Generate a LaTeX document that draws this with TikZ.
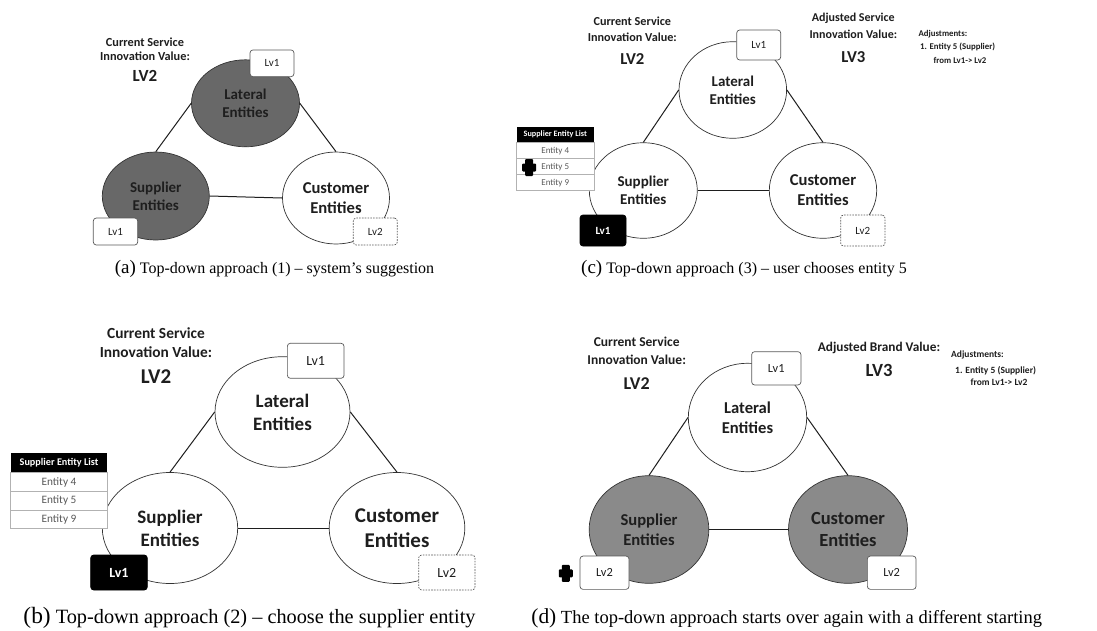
\documentclass[tikz,border=0pt]{standalone}
\usepackage{fontspec}
\setmainfont{Carlito}
\newfontfamily\capfont{Liberation Serif}
\usetikzlibrary{shapes.geometric}

% font size with a 1.2 line spacing
\newcommand\fsz[1]{\fontsize{#1}{\fpeval{1.2*#1}}\selectfont}

\definecolor{darkfill}{HTML}{686868}
\definecolor{midfill}{HTML}{8A8A8A}
\definecolor{edge}{HTML}{333333}
\definecolor{inkgray}{HTML}{1E1E1E}

\tikzset{
  entity/.style={ellipse, draw=edge, line width=0.7pt, fill=white, inner sep=0pt,
    align=center, text=inkgray, font=\bfseries\fsz{#1}},
  link/.style={draw=inkgray, line width=1pt},
  lvbox/.style={draw=black!65, line width=0.7pt, rounded corners=3pt, fill=white,
    inner sep=0pt, text=inkgray, font=\fsz{#1}},
  lvdash/.style={lvbox=#1, dash pattern=on 1.6pt off 1.2pt},
  lvsel/.style={lvbox=#1, draw=black, fill=black, text=white, font=\bfseries\fsz{#1}},
  head/.style={inner sep=0pt, text=inkgray, font=\bfseries\fsz{#1}},
  note/.style={inner sep=0pt, text=inkgray, font=\bfseries\fsz{#1}},
  thead/.style={fill=black, text=white, inner sep=0pt, font=\bfseries\fsz{#1}},
  trow/.style={draw=black!30, line width=0.6pt, fill=white, text=black!65,
    inner sep=0pt, font=\fsz{#1}},
  caption/.style={inner sep=0pt, text=black, font=\capfont\fsz{#1}},
  pics/plusmark/.style={code={
    \fill[black, rounded corners=1pt] (-7,-4) rectangle (7,4);
    \fill[black, rounded corners=1pt] (-4,-8.5) rectangle (4,8.5);
  }},
}

\begin{document}
\begin{tikzpicture}[x=1pt, y=-1pt]
\useasboundingbox[fill=white] (0,0) rectangle (1097,630);

% ---------------- (a) system's suggestion ----------------
\node[head=12.3] (aH1) at (145,42.3) {Current Service};
\node[head=12.3] (aH2) at (145,56.7) {Innovation Value:};
\node[head=17]   (aV)  at (145,76)   {LV2};

\node[entity=15, fill=darkfill, minimum width=108pt, minimum height=87pt]
  (aLat) at (245.5,103.3) {Lateral\\Entities};
\node[entity=15, fill=darkfill, minimum width=107pt, minimum height=88pt]
  (aSup) at (155.8,196) {Supplier\\Entities};
\node[entity=16.6, minimum width=107pt, minimum height=92pt]
  (aCus) at (336,198) {Customer\\Entities};

\draw[link] (aLat.west) -- (aSup.north);
\draw[link] (aLat.east) -- (aCus.north);
\draw[link] (aSup.east) -- (aCus.west);

\node[lvbox=11, minimum width=44pt, minimum height=26.7pt] (aLvL) at (272,63.3) {Lv1};
\node[lvbox=11, minimum width=44.4pt, minimum height=27pt] (aLvS) at (115.5,231.5) {Lv1};
\node[lvdash=11, minimum width=44pt, minimum height=27pt] (aLvC) at (375.3,231.5) {Lv2};

\node[caption=16] (aCap) at (274.5,269)
  {{\fsz{19}(a)} Top-down approach (1) – system’s suggestion};

% ---------------- (c) user chooses entity 5 ----------------
\node[head=12.2] (cH1) at (632.3,21.7) {Current Service};
\node[head=12.2] (cH2) at (632.3,37.3) {Innovation Value:};
\node[head=16.7] (cV)  at (632.3,59.3) {LV2};

\node[head=12] (cA1) at (853.3,18.3) {Adjusted Service};
\node[head=12] (cA2) at (853.3,34.3) {Innovation Value:};
\node[head=16.7] (cAV) at (853.3,56.7) {LV3};

\node[note=8.8, anchor=west] (cN1) at (918.3,34) {Adjustments:};
\node[note=8.8, anchor=west] (cN2) at (920,46.7) {1. Entity 5 (Supplier)};
\node[note=8.8] (cN3) at (960,60) {from Lv1-> Lv2};

\node[entity=15, minimum width=107.6pt, minimum height=96.6pt]
  (cLat) at (732.8,90) {Lateral\\Entities};
\node[entity=15, minimum width=108pt, minimum height=95.6pt]
  (cSup) at (643.3,190.5) {Supplier\\Entities};
\node[entity=16.6, minimum width=107.4pt, minimum height=95.6pt]
  (cCus) at (823,190.5) {Customer\\Entities};

\draw[link] (cLat.west) -- (cSup.north);
\draw[link] (cLat.east) -- (cCus.north);
\draw[link] (cSup.east) -- (cCus.west);

\node[lvbox=11, minimum width=44pt, minimum height=30pt] (cLvL) at (758.7,45) {Lv1};
\node[lvsel=11, minimum width=46pt, minimum height=31pt] (cLvS) at (603,230.5) {Lv1};
\node[lvdash=11, minimum width=44.3pt, minimum height=31pt] (cLvC) at (862.8,230.5) {Lv2};

\node[thead=8.2, minimum width=77.5pt, minimum height=16pt] (cT0) at (555.25,134.7) {Supplier Entity List};
\node[trow=9, minimum width=77.5pt, minimum height=16pt] (cT1) at (555.25,150.7) {Entity 4};
\node[trow=9, minimum width=77.5pt, minimum height=16pt] (cT2) at (555.25,166.7) {Entity 5};
\node[trow=9, minimum width=77.5pt, minimum height=16pt] (cT3) at (555.25,182.7) {Entity 9};
\pic at (529,167.5) {plusmark};

\node[caption=16] (cCap) at (744,269)
  {{\fsz{19}(c)} Top-down approach (3) – user chooses entity 5};

% ---------------- (b) choose the supplier entity ----------------
\node[head=15.4] (bH1) at (156,333.3) {Current Service};
\node[head=15.4] (bH2) at (156,352.3) {Innovation Value:};
\node[head=21]   (bV)  at (156,376.7) {LV2};

\node[entity=19, minimum width=135pt, minimum height=110.6pt]
  (bLat) at (282.5,412) {Lateral\\Entities};
\node[entity=19, minimum width=135.4pt, minimum height=111pt]
  (bSup) at (170,528) {Supplier\\Entities};
\node[entity=21, minimum width=135.7pt, minimum height=111pt]
  (bCus) at (397,528) {Customer\\Entities};

\draw[link] (bLat.west) -- (bSup.north);
\draw[link] (bLat.east) -- (bCus.north);
\draw[link] (bSup.east) -- (bCus.west);

\node[lvbox=14, minimum width=56.7pt, minimum height=35pt] (bLvL) at (315.7,360.8) {Lv1};
\node[lvsel=14, minimum width=56.6pt, minimum height=35pt] (bLvS) at (119,572.5) {Lv1};
\node[lvdash=14, minimum width=56.3pt, minimum height=35pt] (bLvC) at (446.8,572.5) {Lv2};

\node[thead=10.2, minimum width=96.6pt, minimum height=19.4pt] (bT0) at (59,463) {Supplier Entity List};
\node[trow=11.3, minimum width=96.6pt, minimum height=18.7pt] (bT1) at (59,482) {Entity 4};
\node[trow=11.3, minimum width=96.6pt, minimum height=18.7pt] (bT2) at (59,500.7) {Entity 5};
\node[trow=11.3, minimum width=96.6pt, minimum height=18.7pt] (bT3) at (59,519.4) {Entity 9};

\node[caption=20.3] (bCap) at (249.5,618)
  {{\fsz{23.4}(b)} Top-down approach (2) – choose the supplier entity};

% ---------------- (d) start over with a new starting point ----------------
\node[head=13.5] (dH1) at (636.7,342.3) {Current Service};
\node[head=13.5] (dH2) at (636.7,360) {Innovation Value:};
\node[head=18]   (dV)  at (636.7,383.3) {LV2};

\node[head=13.3] (dA1) at (879,347.7) {Adjusted Brand Value:};
\node[head=18.6] (dAV) at (879,370.7) {LV3};

\node[note=9.5, anchor=west] (dN1) at (951,355) {Adjustments:};
\node[note=9.5, anchor=west] (dN2) at (955,370.7) {1. Entity 5 (Supplier)};
\node[note=9.5] (dN3) at (999,382.3) {from Lv1-> Lv2};

\node[entity=16.6, minimum width=118.4pt, minimum height=108.4pt]
  (dLat) at (747.5,417.5) {Lateral\\Entities};
\node[entity=16.6, fill=midfill, minimum width=119.7pt, minimum height=107.6pt]
  (dSup) at (649,529.5) {Supplier\\Entities};
\node[entity=18.5, fill=midfill, minimum width=119pt, minimum height=107.6pt]
  (dCus) at (848,529.5) {Customer\\Entities};

\draw[link] (dLat.west) -- (dSup.north);
\draw[link] (dLat.east) -- (dCus.north);
\draw[link] (dSup.east) -- (dCus.west);

\node[lvbox=12.4, minimum width=49.3pt, minimum height=33.3pt] (dLvL) at (776.3,368.3) {Lv1};
\node[lvbox=12.4, minimum width=49pt, minimum height=33.3pt] (dLvS) at (604.5,572.7) {Lv2};
\node[lvbox=12.4, minimum width=48.7pt, minimum height=33.3pt] (dLvC) at (891.7,572.7) {Lv2};
\pic at (565.8,573.3) {plusmark};

\node[caption=18.5] (dCap) at (786.7,618)
  {{\fsz{21.4}(d)} The top-down approach starts over again with a different starting};
\end{tikzpicture}
\end{document}
